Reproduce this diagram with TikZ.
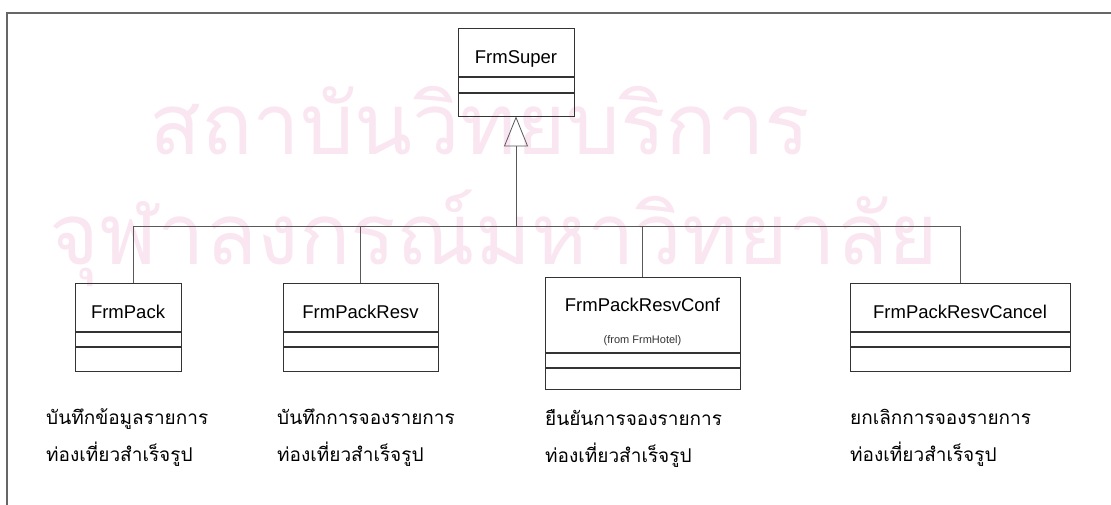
\documentclass[tikz,border=0pt]{standalone}
\usepackage{fontspec}
\setmainfont{Liberation Sans}
\newfontfamily\thaifont[Script=Thai]{Loma}
\usetikzlibrary{arrows.meta,positioning}
\definecolor{markpink}{RGB}{250,230,240}
\tikzset{
  clsname/.style={
    rectangle,
    draw=black!80,
    line width=0.8pt,
    minimum height=48pt,
    inner sep=0pt,
    text height=23pt,
    text depth=0pt,
    font=\fontsize{18.5}{22}\selectfont
  },
  clsattr/.style={
    rectangle,
    draw=black!80,
    line width=0.8pt,
    minimum height=14pt,
    inner sep=0pt
  },
  clsops/.style={
    clsattr,
    minimum height=24pt
  },
  link/.style={
    draw=black!65,
    line width=0.8pt
  },
  inherit/.style={
    link,
    -{Triangle[open,length=30pt,width=24pt,line width=0.8pt]}
  },
  desc/.style={
    align=left,
    anchor=west,
    inner sep=0pt,
    font=\thaifont\fontsize{19}{37}\selectfont
  },
  fromnote/.style={
    inner sep=0pt,
    text=black!80,
    font=\fontsize{11}{13}\selectfont
  },
  watermark/.style={
    inner sep=0pt,
    anchor=base,
    text=markpink,
    font=\thaifont\fontsize{85}{95}\selectfont
  }
}

\begin{document}
\begin{tikzpicture}[x=1pt,y=-1pt]
  \useasboundingbox (0,0) rectangle (1111,505);
  \node[watermark] (markA) at (480,155) {สถาบันวิทยบริการ};
  \node[watermark] (markB) at (494,265) {จุฬาลงกรณ์มหาวิทยาลัย};
  \draw[black!60, line width=1.5pt] (7,505) -- (7,13) -- (1111,13);

  % super class
  \node[clsname, minimum width=116pt, anchor=north] (super) at (516,28) {FrmSuper};
  \node[clsattr, minimum width=116pt, minimum height=15pt, below=0pt of super] (superA) {};
  \node[clsops, minimum width=116pt, minimum height=23pt, below=0pt of superA] (superO) {};

  % sub classes
  \node[clsname, minimum width=106pt, anchor=north] (pack) at (128,283) {FrmPack};
  \node[clsattr, minimum width=106pt, below=0pt of pack] (packA) {};
  \node[clsops, minimum width=106pt, below=0pt of packA] (packO) {};

  \node[clsname, minimum width=155pt, anchor=north] (resv) at (360.5,283) {FrmPackResv};
  \node[clsattr, minimum width=155pt, below=0pt of resv] (resvA) {};
  \node[clsops, minimum width=155pt, below=0pt of resvA] (resvO) {};

  \node[clsname, minimum width=195pt, minimum height=75pt, text height=13.5pt, text depth=21pt, anchor=north] (conf) at (642.5,277) {FrmPackResvConf};
  \node[fromnote] (confFrom) at ([yshift=-25.5pt]conf.center) {(from FrmHotel)};
  \node[clsattr, minimum width=195pt, below=0pt of conf] (confA) {};
  \node[clsops, minimum width=195pt, minimum height=21pt, below=0pt of confA] (confO) {};

  \node[clsname, minimum width=220pt, anchor=north] (cancel) at (960,283) {FrmPackResvCancel};
  \node[clsattr, minimum width=220pt, below=0pt of cancel] (cancelA) {};
  \node[clsops, minimum width=220pt, below=0pt of cancelA] (cancelO) {};

  % descriptions
  \node[desc] (packDesc) at (46,438) {บันทึกข้อมูลรายการ\\ท่องเที่ยวสำเร็จรูป};
  \node[desc] (resvDesc) at (277,438) {บันทึกการจองรายการ\\ท่องเที่ยวสำเร็จรูป};
  \node[desc] (confDesc) at (545,438) {ยืนยันการจองรายการ\\ท่องเที่ยวสำเร็จรูป};
  \node[desc] (cancelDesc) at (850,438) {ยกเลิกการจองรายการ\\ท่องเที่ยวสำเร็จรูป};

  % generalization
  \coordinate (hub) at (superO.south |- 0,226);
  \draw[inherit] (hub) -- (superO.south);
  \draw[link] ([xshift=5pt]pack.north) |- (hub);
  \draw[link] (resv.north) |- (hub);
  \draw[link] (conf.north) |- (hub);
  \draw[link] (cancel.north) |- (hub);
\end{tikzpicture}
\end{document}
